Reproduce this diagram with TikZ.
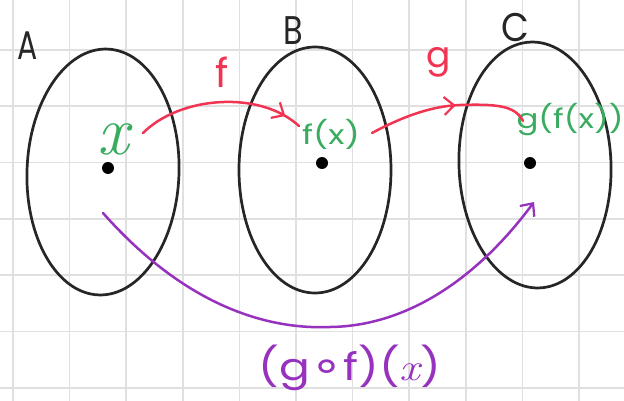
\documentclass[tikz,border=0pt]{standalone}
\usepackage{fontspec}
\setsansfont{Poppins}
\newfontfamily\djv{DejaVu Sans}
\usetikzlibrary{shapes.geometric,arrows.meta,decorations.markings}
\definecolor{gridc}{RGB}{224,224,224}
\definecolor{redc}{RGB}{240,52,82}
\definecolor{greenc}{RGB}{58,172,96}
\definecolor{purplec}{RGB}{150,50,190}
\begin{document}
\begin{tikzpicture}[x=1pt,y=-1pt,
  gridline/.style={gridc,line width=1.6pt},
  setshape/.style={ellipse,draw=black!85,line width=2.7pt,inner sep=0pt,minimum width=152pt,minimum height=246pt},
  dotnode/.style={circle,fill=black,inner sep=0pt,minimum size=12pt},
  setlabel/.style={font=\sffamily\fontsize{40}{44}\selectfont,text=black!85,inner sep=0pt},
  elemlabel/.style={font=\sffamily\fontsize{27}{30}\selectfont,text=greenc,inner sep=0pt},
  funlabel/.style={font=\sffamily\fontsize{40}{44}\selectfont,text=redc,inner sep=0pt},
  redarrow/.style={redc,line width=2.5pt,line cap=round},
  mybarb/.tip={Straight Barb[length=10pt,width=18pt,line width=2.2pt]}
]
\useasboundingbox (0,0) rectangle (624,401);
\fill[white] (0,0) rectangle (624,401);
\foreach \i in {0,...,10} \draw[gridline] ({13+56.6*\i},0) -- ({13+56.6*\i},401);
\foreach \j in {0,...,6} \draw[gridline] (0,{50+56.3*\j}) -- (624,{50+56.3*\j});

\node[setshape,rotate=-2] (A) at (103,172) {};
\node[setshape] (B) at (315,170) {};
\node[setshape,rotate=2] (C) at (535,165) {};

\node[setlabel] (lA) at (28,46) {\scalebox{0.75}[1]{A}};
\node[setlabel] (lB) at (293,31) {\scalebox{0.8}[1]{B}};
\node[setlabel] (lC) at (515,28) {\scalebox{0.9}[1]{C}};

\node[dotnode] (da) at (108,168) {};
\node[dotnode] (db) at (322,163) {};
\node[dotnode] (dc) at (530,163) {};

\node[text=greenc,inner sep=0pt,font=\rmfamily\itshape\fontsize{70}{72}\selectfont] (xl) at (113,139) {x};
\node[elemlabel] (fx) at (331,134) {\scalebox{1.25}[1]{f(x)}};
\node[elemlabel] (gfx) at (570,120) {\scalebox{1.2}[1]{g(f(x))}};

\node[funlabel] (lf) at (222,72) {f};
\node[funlabel] (lg) at (439,62) {\scalebox{0.9}{g}};

\coordinate (fs) at (143,133);
\coordinate (fe) at (299,126);
\coordinate (gs) at (372,133);
\coordinate (ge) at (523,121);
\coordinate (ps) at (103,213);
\coordinate (pm) at (330,327);
\coordinate (pe) at (534,202);

\draw[redarrow,postaction={decorate},decoration={markings,mark=at position 0.9 with {\arrow{mybarb}}}]
  (fs) .. controls (180,96) and (260,90) .. (fe);
\draw[redarrow,postaction={decorate},decoration={markings,mark=at position 0.55 with {\arrow{mybarb}}}]
  (gs) .. controls (400,118) and (430,106) .. (460,105) .. controls (495,104) and (515,105) .. (ge);
\draw[purplec,line width=2.5pt,line cap=round,-mybarb]
  (ps) .. controls (180,300) and (260,330) .. (pm) .. controls (410,326) and (480,275) .. (pe);

\node[text=purplec,inner sep=0pt,font=\sffamily\fontsize{38}{42}\selectfont] (gof) at (350,368) {\scalebox{1.2}[1]{(g{\djv\fontsize{44}{44}\selectfont ∘}f)({\rmfamily\itshape x})}};
\end{tikzpicture}
\end{document}
